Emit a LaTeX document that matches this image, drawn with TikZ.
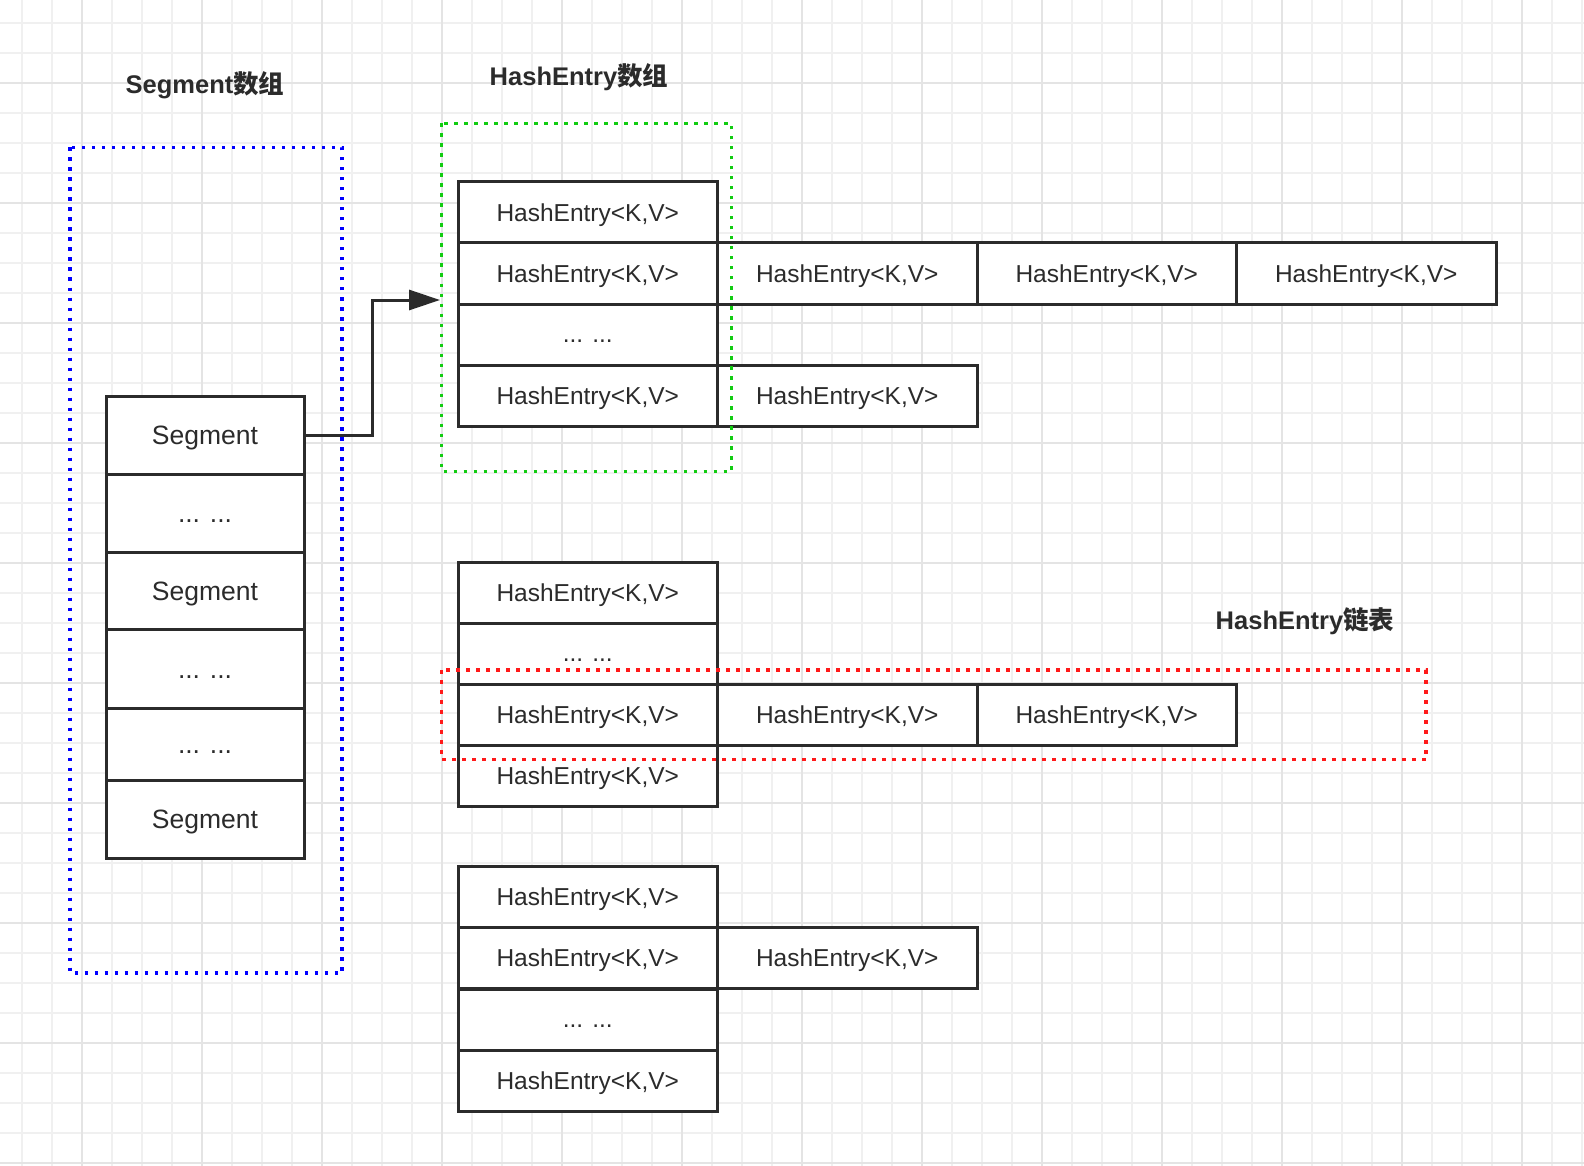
\documentclass[tikz,border=0pt]{standalone}
\usepackage{fontspec}
\setmainfont{Liberation Sans}
\newfontfamily\cjk{Noto Sans CJK SC}
\usetikzlibrary{arrows.meta}
\definecolor{ink}{HTML}{2B2B2B}
\definecolor{gridminor}{HTML}{F0F0F0}
\definecolor{gridmajor}{HTML}{E4E4E4}
\definecolor{dotblue}{HTML}{0000FF}
\definecolor{dotgreen}{HTML}{11CC11}
\definecolor{dotred}{HTML}{FF1A1A}
\begin{document}
\begin{tikzpicture}[x=1pt,y=-1pt,
  minorline/.style={draw=gridminor, line width=1.6pt},
  majorline/.style={draw=gridmajor, line width=2pt},
  cell/.style={draw=ink, line width=3pt, fill=white, text=ink, inner sep=0pt, outer sep=0pt,
    anchor=north west, font=\fontsize{24.5}{28}\selectfont, text height=18pt, text depth=0pt},
  hcell/.style={cell, minimum width=259.5pt, minimum height=61pt},
  scell/.style={cell, minimum width=198pt, font=\fontsize{26.5}{30}\selectfont, text height=19.5pt},
  hdots/.style={text height=15pt},
  sdots/.style={text height=19pt},
  title/.style={text=ink, font=\fontsize{25.5}{30}\selectfont\bfseries, inner sep=0pt},
  dotframe/.style={line width=3.5pt, dash pattern=on 3.5pt off 6.5pt},
  conn/.style={draw=ink, line width=3pt, -{Triangle[length=31pt,width=20pt]}}
]
\useasboundingbox (0,0) rectangle (1584,1166);
\fill[white] (0,0) rectangle (1584,1166);
% grid
\foreach \i in {0,...,52} \draw[minorline] ({21.7+30*\i},0) -- ++(0,1166);
\foreach \i in {0,...,38} \draw[minorline] (0,{23+30*\i}) -- ++(1584,0);
\foreach \i in {0,...,12} \draw[majorline] ({81.7+120*\i},0) -- ++(0,1166);
\foreach \i in {0,...,9} \draw[majorline] (0,{83+120*\i}) -- ++(1584,0);

% titles
\node[title] (tseg) at (205,85) {Segment{\cjk 数组}};
\node[title] (tarr) at (579,77) {HashEntry{\cjk 数组}};
\node[title] (tlist) at (1305,621) {HashEntry{\cjk 链表}};

% Segment array
\node[scell, minimum height=78pt] (s1) at (106,396) {Segment};
\node[scell, sdots, minimum height=78pt] (s2) at (106,474) {... ...};
\node[scell, minimum height=77pt] (s3) at (106,552) {Segment};
\node[scell, sdots, minimum height=79pt] (s4) at (106,629) {... ...};
\node[scell, sdots, minimum height=72pt] (s5) at (106,708) {... ...};
\node[scell, minimum height=78pt] (s6) at (106,780) {Segment};

% HashEntry table 1
\node[hcell] (a1) at (458,182) {HashEntry<K,V>};
\node[hcell] (a2) at (458,243) {HashEntry<K,V>};
\node[hcell, hdots] (a3) at (458,304) {... ...};
\node[hcell] (a4) at (458,365) {HashEntry<K,V>};
\node[hcell] (a2b) at (717.5,243) {HashEntry<K,V>};
\node[hcell] (a2c) at (977,243) {HashEntry<K,V>};
\node[hcell] (a2d) at (1236.5,243) {HashEntry<K,V>};
\node[hcell] (a4b) at (717.5,365) {HashEntry<K,V>};

% HashEntry table 2
\node[hcell] (b1) at (458,562) {HashEntry<K,V>};
\node[hcell, hdots] (b2) at (458,623) {... ...};
\node[hcell] (b3) at (458,684) {HashEntry<K,V>};
\node[hcell] (b4) at (458,745) {HashEntry<K,V>};
\node[hcell] (b3b) at (717.5,684) {HashEntry<K,V>};
\node[hcell] (b3c) at (977,684) {HashEntry<K,V>};

% HashEntry table 3
\node[hcell] (c1) at (458,866) {HashEntry<K,V>};
\node[hcell] (c2) at (458,927) {HashEntry<K,V>};
\node[hcell, hdots] (c3) at (458,989) {... ...};
\node[hcell] (c4) at (458,1050) {HashEntry<K,V>};
\node[hcell] (c2b) at (717.5,927) {HashEntry<K,V>};

% connector
\coordinate (tip) at (440,300);
\draw[conn] (s1.east) -- ++(68,0) |- (tip);

% dotted frames
\draw[dotframe, dotblue] (70,147.5) rectangle (342,973);
\draw[dotframe, dotgreen] (441.5,123.5) rectangle (731.5,471.5);
\draw[dotframe, dotred] (441.5,670) rectangle (1426,759.5);
\end{tikzpicture}
\end{document}
